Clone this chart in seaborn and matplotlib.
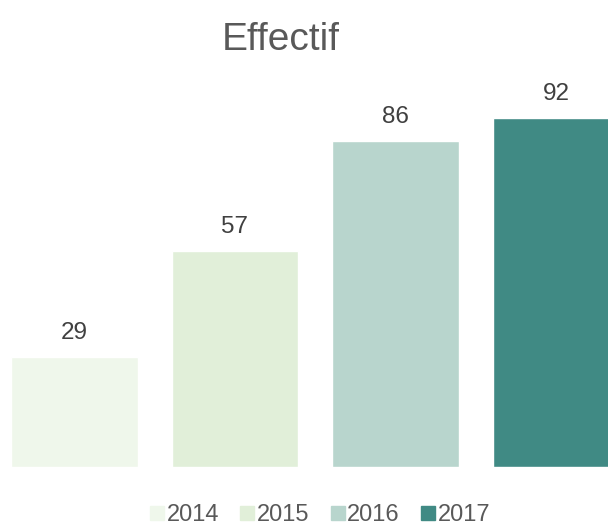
import matplotlib
matplotlib.use("Agg")
import matplotlib.pyplot as plt
from matplotlib.lines import Line2D
import seaborn as sns
import pandas as pd

years = ["2014", "2015", "2016", "2017"]
effectif = [29, 57, 86, 92]
colors = ["#EFF7EB", "#E1EFD9", "#B8D5CD", "#408A84"]

sns.set_theme(style="white")
plt.rcParams["font.family"] = ["Liberation Sans", "DejaVu Sans"]

df = pd.DataFrame({"annee": years, "effectif": effectif})

fig = plt.figure(figsize=(6.08, 5.27), dpi=100)
ax = fig.add_axes([0, 60 / 527, 1, 467 / 527])

sns.barplot(data=df, x="annee", y="effectif", hue="annee", palette=colors,
            width=0.79, dodge=False, legend=False, ax=ax, saturation=1)

ax.set_xlim(-74.5 / 160.5, (608 - 74.5) / 160.5)
ax.set_ylim(0, 467 / 3.79)

for i, v in enumerate(effectif):
    ax.annotate(str(v), (i, v), xytext=(0, 17.3), textcoords="offset points",
                ha="center", va="center", fontsize=17.5, color="#404040")

ax.set_axis_off()

fig.text(281 / 608, 1 - 40 / 527, "Effectif", ha="center", va="center",
         fontsize=28, color="#595959")

handles = [Line2D([0], [0], marker="s", linestyle="none", markersize=9.5,
                  markerfacecolor=c, markeredgecolor=c) for c in colors]
fig.legend(handles, years, loc="center", bbox_to_anchor=(320 / 608, 1 - 515 / 527),
           ncol=4, frameon=False, fontsize=17, handletextpad=0.1,
           columnspacing=0.9, handlelength=0.6, labelcolor="#595959",
           borderpad=0.1)

fig.savefig("out.png", dpi=100)
